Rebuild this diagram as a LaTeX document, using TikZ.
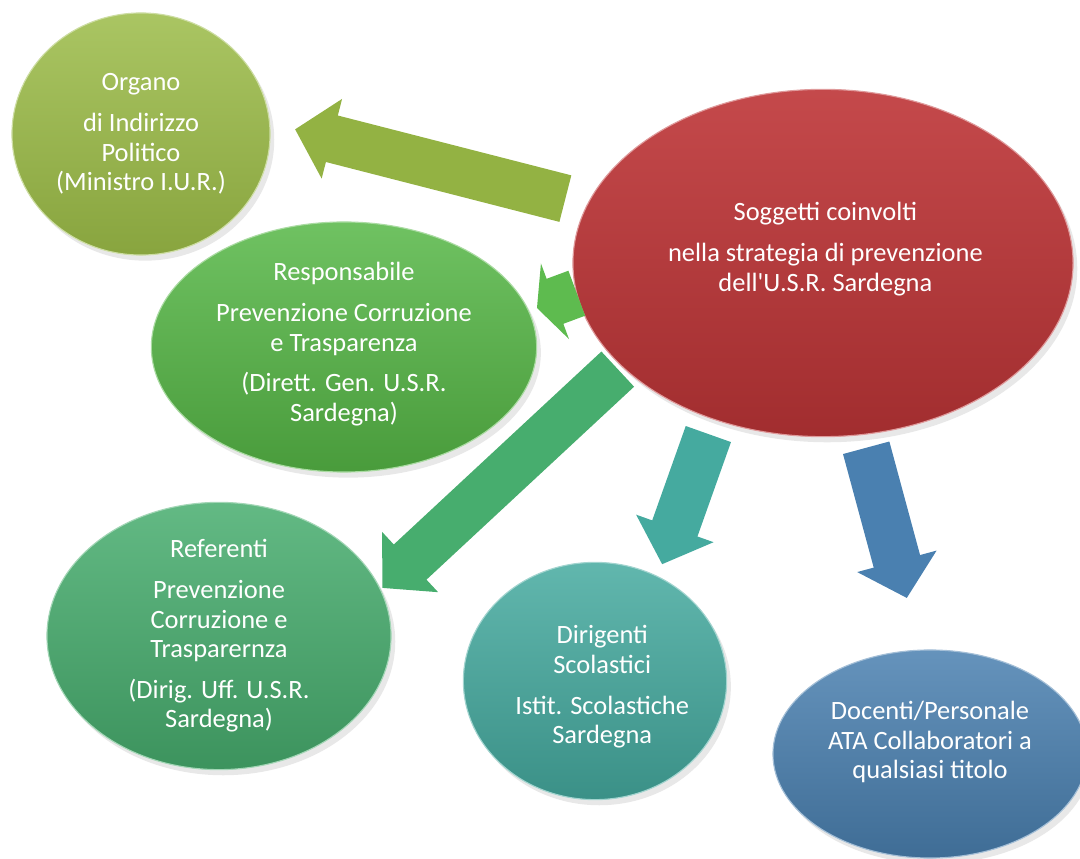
\documentclass[tikz,border=0pt]{standalone}
\usepackage{fontspec}
\setmainfont{Carlito}[Ligatures=TeXOff]
\usetikzlibrary{arrows.meta, shapes.geometric, shadows}

\definecolor{organoC}{HTML}{9BBB47}
\definecolor{respC}{HTML}{56B746}
\definecolor{soggC}{HTML}{BE3537}
\definecolor{refC}{HTML}{47AD6E}
\definecolor{dirC}{HTML}{45AA9F}
\definecolor{docC}{HTML}{4A80B0}

\begin{document}
\begin{tikzpicture}[
            x = 0.025cm, y = -0.025cm, % one unit is one pixel
            > = {Triangle[length=0.95cm, width=2cm]}, % block arrow head
            font = \fontsize{18.8}{21}\selectfont
        ]

        \tikzstyle{bubble}=[
            ellipse,
            inner sep = 0pt,
            outer sep = 0pt,
            line width = 0.8pt,
            drop shadow = {opacity=0.18, shadow xshift=3pt, shadow yshift=-4pt}
        ]
        \tikzstyle{txt}=[
            text = white,
            align = center
        ]
        \tikzstyle{block}=[
            ->,
            line width = 1.2cm % body of the arrow
        ]

        \useasboundingbox (0,0) rectangle (1080,859);

	\node[bubble, minimum width=6.45cm, minimum height=6.05cm, top color=organoC!85!white, bottom color=organoC!88!black, draw=organoC!50!white] (organo) at (141,134) {};
	\node[bubble, minimum width=9.63cm, minimum height=6.25cm, top color=respC!85!white, bottom color=respC!85!black, draw=respC!50!white] (resp) at (344,347) {};
	\node[bubble, minimum width=8.6cm, minimum height=6.68cm, top color=refC!85!white, bottom color=refC!85!black, draw=refC!50!white] (ref) at (219,636) {};
	\node[bubble, minimum width=6.58cm, minimum height=5.93cm, top color=dirC!85!white, bottom color=dirC!85!black, draw=dirC!50!white] (dir) at (595,681) {};
	\node[bubble, minimum width=7.85cm, minimum height=5.2cm, top color=docC!85!white, bottom color=docC!85!black, draw=docC!50!white] (doc) at (930,754) {};
	\node[bubble, minimum width=12.5cm, minimum height=8.68cm, top color=soggC!90!white, bottom color=soggC!85!black, draw=soggC!50!white] (sogg) at (823,263) {};

	% texts
	\node[txt] (organo-t) at (organo) {Organo\\[8pt] di Indirizzo\\ Politico\\ (Ministro I.U.R.)};
	\node[txt] (resp-t) at ([yshift=2pt]resp.center) {Responsabile\\[8pt] Prevenzione Corruzione\\ e Trasparenza\\[8pt] (Dirett. Gen. U.S.R.\\ Sardegna)};
	\node[txt] (ref-t) at (ref) {Referenti\\[8pt] Prevenzione\\ Corruzione e\\ Trasparernza\\[8pt] (Dirig. Uff. U.S.R.\\ Sardegna)};
	\node[txt] (dir-t) at ([xshift=0.18cm, yshift=-0.15cm]dir.center) {Dirigenti\\ Scolastici\\[8pt] Istit. Scolastiche\\ Sardegna};
	\node[txt] (doc-t) at ([yshift=0.29cm]doc.center) {Docenti/Personale\\ ATA Collaboratori a\\ qualsiasi titolo};
	\node[txt] (sogg-t) at ([xshift=0.06cm, yshift=0.35cm]sogg.center) {Soggetti coinvolti\\[8pt] nella strategia di prevenzione\\ dell'U.S.R. Sardegna};

	% arrows
	\draw[block, draw=organoC!95!black, shorten <=0.575cm, shorten >=0.66cm] (sogg.166) -- (organo.5);
	\draw[block, draw=respC!95!white, -{Triangle[length=0.48cm, width=2cm]}, shorten >=0.225cm] (sogg.187) -- (resp.11.5);
	\draw[block, draw=refC, shorten <=0.125cm, shorten >=0.065cm] (sogg.207) -- (ref.16);
	\draw[block, draw=dirC, shorten <=0.395cm, shorten >=0.33cm] (sogg.235.5) -- (dir.59);
	\draw[block, draw=docC, shorten <=0.345cm, shorten >=1.35cm] (sogg.283.3) -- (doc.95);

    \end{tikzpicture}
\end{document}
